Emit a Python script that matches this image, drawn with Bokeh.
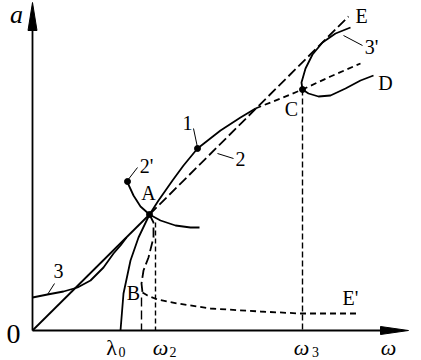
from bokeh.plotting import figure
from bokeh.models import Range1d, ColumnDataSource
from bokeh.embed import file_html
from bokeh.resources import INLINE
from bokeh.core.properties import value

# ---- data (schematic amplitude-frequency curves, origin at axis crossing) ----
# line 2 (through origin): solid up to A, long-dashed from A to E
line2_solid_x = [0, 117]
line2_solid_y = [0, 116]
line2_dash_x = [117, 316]
line2_dash_y = [116, 314]

# curve 1: solid from lambda0 through A, then short-dashed past C
curve1_x = [88, 91, 98, 106, 117, 126, 140, 151, 165, 188, 208, 223]
curve1_y = [0, 37, 70, 93, 116, 130, 150, 165, 182, 200, 213, 222]
curve1_dash_x = [223, 248, 270, 298, 328]
curve1_dash_y = [222, 232, 241, 254, 267]

# curve 3'
curve3p_x = [318, 303, 290, 280, 273, 269, 270, 276, 286, 298, 313, 328, 341]
curve3p_y = [303, 297, 288, 276, 262, 248, 241, 237, 234, 235, 242, 250, 255]

# curve 2' (arc through A)
curve2p_x = [95, 101, 108, 117, 128, 143, 158, 167]
curve2p_y = [148, 135, 124, 116, 110, 105, 103, 103]

# branch A -> B (long dash) and B -> E' (short dash)
branchAB_x = [117, 121, 121, 116, 111, 109, 110]
branchAB_y = [116, 108, 93, 73, 60, 47, 38]
branchBE_x = [110, 115, 125, 145, 178, 228, 268, 325]
branchBE_y = [38, 35, 31, 27, 22, 19, 17, 17]

# curve 3 (left)
curve3_x = [0, 15, 31, 45, 58, 71, 81, 88, 94]
curve3_y = [33, 36, 39, 43, 50, 63, 77, 85, 93]

# vertical guides: omega2 (from A branch), B, omega3 (from C)
guide_w2_x = [123, 123]
guide_w2_y = [108, 0]
guide_B_x = [109, 109]
guide_B_y = [33, 0]
guide_w3_x = [270, 270]
guide_w3_y = [241, 0]

# marked points: A, C, point on 1, start of 2'
dots_x = [117, 270, 165, 95]
dots_y = [116, 241, 182, 149]

# leader lines for labels 1, 2, 2', 3, 3'
leaders_xs = [[161, 165], [185, 201], [95, 105], [15, 22], [311, 330]]
leaders_ys = [[202, 183], [177, 172], [150, 163], [36, 47], [295, 285]]

# labels
label_text = ["A", "B", "C", "D", "E", "E'", "1", "2", "2'", "3", "3'"]
label_x = [116, 101, 259, 353, 329, 318, 155, 208, 114, 26, 339]
label_y = [138, 38, 222, 248, 315, 33, 208, 172, 165, 60, 284]

# axis / tick label texts
tick_main_text = ["λ", "ω", "ω"]
tick_main_x = [79, 128, 269]
tick_sub_text = ["0", "2", "3"]
tick_sub_x = [89.5, 140.5, 283]

axis_x_max = 376
axis_y_max = 328

p = figure(width=421, height=360, output_backend="svg", toolbar_location=None,
           x_range=Range1d(-32, 389), y_range=Range1d(-30, 330),
           min_border=0, border_fill_color="white", background_fill_color="white")
p.axis.visible = False
p.grid.visible = False
p.outline_line_color = None

LW = 1.8
BLACK = "black"

# axes with arrowheads
p.line([0, axis_x_max - 26], [0, 0], line_width=LW, color=BLACK)
p.line([0, 0], [0, axis_y_max - 26], line_width=LW, color=BLACK)
p.patch([axis_x_max - 28, axis_x_max, axis_x_max - 28], [-4, 0, 4], color=BLACK)
p.patch([-4.5, 0, 4.5], [axis_y_max - 28, axis_y_max, axis_y_max - 28], color=BLACK)

# curves
p.line(line2_solid_x, line2_solid_y, line_width=LW, color=BLACK)
p.line(line2_dash_x, line2_dash_y, line_width=LW, color=BLACK, line_dash="10 4")
p.line(curve1_x, curve1_y, line_width=LW, color=BLACK)
p.line(curve1_dash_x, curve1_dash_y, line_width=LW, color=BLACK, line_dash="6 4")
p.line(curve3p_x, curve3p_y, line_width=LW, color=BLACK)
p.line(curve2p_x, curve2p_y, line_width=LW, color=BLACK)
p.line(branchAB_x, branchAB_y, line_width=LW, color=BLACK, line_dash="10 4")
p.line(branchBE_x, branchBE_y, line_width=LW, color=BLACK, line_dash="6 4")
p.line(curve3_x, curve3_y, line_width=LW, color=BLACK)

p.line(guide_w2_x, guide_w2_y, line_width=1.4, color=BLACK, line_dash="5 3")
p.line(guide_B_x, guide_B_y, line_width=1.4, color=BLACK, line_dash="9 4")
p.line(guide_w3_x, guide_w3_y, line_width=1.4, color=BLACK, line_dash="6 3")

p.multi_line(leaders_xs, leaders_ys, line_width=1.0, color=BLACK)
p.scatter(dots_x, dots_y, size=6, color=BLACK)

FONT = value("Liberation Serif")
src = ColumnDataSource(dict(x=label_x, y=label_y, t=label_text))
p.text(x="x", y="y", text="t", source=src, text_font=FONT, text_font_size="20px",
       text_align="center", text_baseline="middle", text_color=BLACK)

# axis labels
p.text(x=[-16], y=[316], text=["a"], text_font=FONT, text_font_size="26px",
       text_font_style="italic", text_align="center", text_baseline="middle")
p.text(x=[-19], y=[-3], text=["0"], text_font=FONT, text_font_size="28px",
       text_align="center", text_baseline="middle")
p.text(x=[356], y=[-17], text=["ω"], text_font=FONT, text_font_size="22px",
       text_font_style="italic", text_align="center", text_baseline="middle")
# tick labels with subscripts
msrc = ColumnDataSource(dict(x=tick_main_x, y=[-17] * 3, t=tick_main_text,
                             s=["normal", "italic", "italic"]))
p.text(x="x", y="y", text="t", source=msrc, text_font=FONT, text_font_size="22px",
       text_font_style="s", text_align="center", text_baseline="middle")
ssrc = ColumnDataSource(dict(x=tick_sub_x, y=[-21] * 3, t=tick_sub_text))
p.text(x="x", y="y", text="t", source=ssrc, text_font=FONT, text_font_size="14px",
       text_align="center", text_baseline="middle")

open("out.html", "w").write(file_html(p, INLINE))
